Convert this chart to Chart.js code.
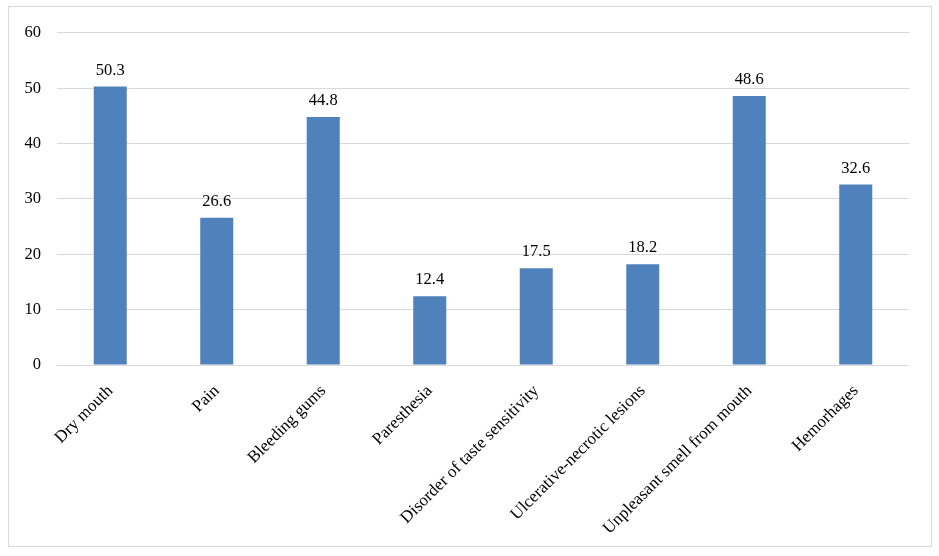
<!DOCTYPE html>
<html lang="en">
<head>
    <meta charset="UTF-8">
    <title>Symptoms chart</title>
    <script src="https://cdn.jsdelivr.net/npm/chart.js"></script>
    <style>
        html, body { margin: 0; padding: 0; background: #fff; }
        #frame {
            position: absolute; left: 8px; top: 6px;
            width: 922px; height: 539px;
            border: 1px solid #d9d9d9;
        }
    </style>
</head>
<body>
    <div id="frame"><canvas id="chart" width="922" height="539"></canvas></div>

    <script>
        const categories = ['Dry mouth', 'Pain', 'Bleeding gums', 'Paresthesia',
            'Disorder of taste sensitivity', 'Ulcerative-necrotic lesions',
            'Unpleasant smell from mouth', 'Hemorhages'];
        const values = [50.3, 26.6, 44.8, 12.4, 17.5, 18.2, 48.6, 32.6];
        const yTicks = [0, 10, 20, 30, 40, 50, 60];

        const fontFamily = '"Liberation Serif", "Times New Roman", serif';

        // draws the value above each bar
        const valueLabels = {
            id: 'valueLabels',
            afterDatasetsDraw(chart) {
                const ctx = chart.ctx;
                const meta = chart.getDatasetMeta(0);
                ctx.save();
                ctx.font = '16.5px ' + fontFamily;
                ctx.fillStyle = '#000';
                ctx.textAlign = 'center';
                ctx.textBaseline = 'bottom';
                meta.data.forEach((bar, i) => {
                    ctx.fillText(values[i].toFixed(1), bar.x, bar.y - 8);
                });
                ctx.restore();
            }
        };

        new Chart(document.getElementById('chart'), {
            type: 'bar',
            data: {
                labels: categories,
                datasets: [{
                    data: values,
                    backgroundColor: '#4f81bd',
                    barPercentage: 0.62,
                    categoryPercentage: 0.5
                }]
            },
            options: {
                responsive: false,
                animation: false,
                layout: { padding: { top: 24, right: 22, left: 0, bottom: 0 } },
                plugins: { legend: { display: false }, tooltip: { enabled: false } },
                scales: {
                    x: {
                        grid: { display: false },
                        border: { display: false },
                        ticks: {
                            color: '#000',
                            font: { family: fontFamily, size: 17 },
                            minRotation: 45, maxRotation: 45,
                            padding: 8
                        },
                        afterFit(scale) { scale.height = 181; }
                    },
                    y: {
                        min: 0, max: 60,
                        afterBuildTicks(scale) { scale.ticks = yTicks.map(v => ({ value: v })); },
                        grid: { color: '#d9d9d9', drawTicks: false },
                        border: { display: false },
                        ticks: {
                            color: '#000',
                            font: { family: fontFamily, size: 16.5 },
                            padding: 16
                        },
                        afterFit(scale) { scale.width = 48; }
                    }
                }
            },
            plugins: [valueLabels]
        });
    </script>
</body>
</html>
